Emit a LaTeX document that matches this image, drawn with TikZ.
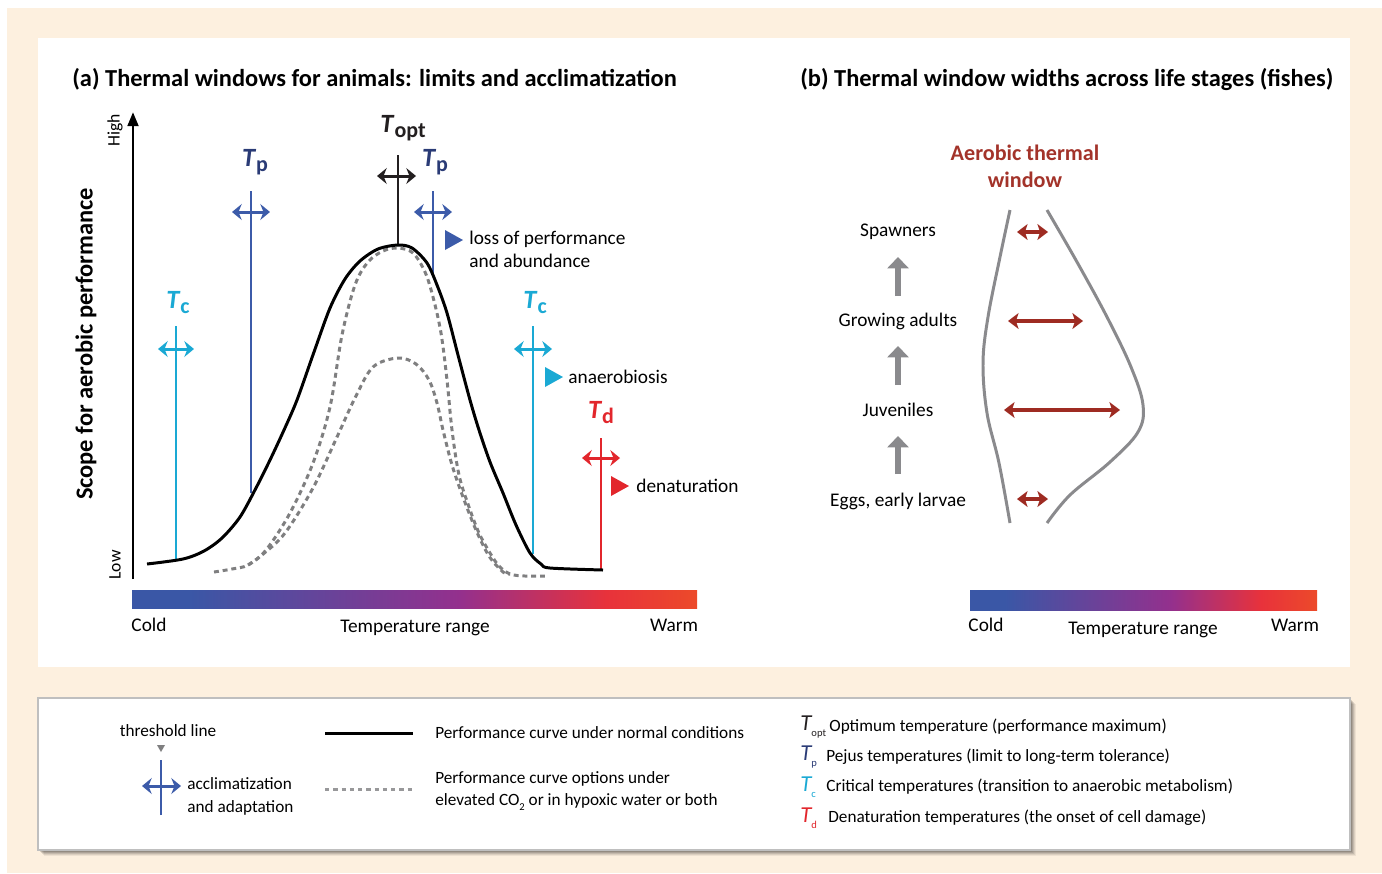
\documentclass[tikz,border=0pt]{standalone}
\usepackage{fontspec}
\setmainfont{Carlito}
\usetikzlibrary{arrows.meta,calc}
\definecolor{bgbeige}{HTML}{FDF0DF}
\definecolor{cTc}{HTML}{1AA9D4}
\definecolor{cTpL}{HTML}{3C5BA9}
\definecolor{cTp}{HTML}{2A3B76}
\definecolor{cTd}{HTML}{E2262C}
\definecolor{cTopt}{HTML}{231F20}
\definecolor{winred}{HTML}{9E2B22}
\definecolor{wintext}{HTML}{A3332A}
\definecolor{wingray}{HTML}{8A8A8D}
\definecolor{dashgray}{HTML}{7F7F80}
\definecolor{barblue}{HTML}{3A57A6}
\definecolor{barpurple}{HTML}{94308D}
\definecolor{barred}{HTML}{E8323B}
\definecolor{barorange}{HTML}{EC4A2A}
\pgfdeclarehorizontalshading{tempbar}{100bp}{color(0bp)=(barblue); color(25bp)=(barblue); color(30bp)=(barblue); color(54bp)=(barpurple); color(67bp)=(barred); color(75bp)=(barorange); color(100bp)=(barorange)}
\newcommand\Tl[1]{\textbf{\textit{T}}\raisebox{-0.4ex}{\fontsize{12.5}{12.5}\selectfont\bfseries #1}}
\newcommand\Ts[1]{{\fontsize{13}{13}\selectfont\itshape T}\raisebox{-0.7ex}{\fontsize{6}{6}\selectfont #1}}
\tikzset{
  thr/.style={line width=1.2pt},
  dbl/.style={line width=1.7pt,{Stealth[length=5.5pt,width=9pt,inset=1.8pt]}-{Stealth[length=5.5pt,width=9pt,inset=1.8pt]}},
  rdbl/.style={line width=2.3pt,winred,{Stealth[length=6pt,width=9pt,inset=1.5pt]}-{Stealth[length=6pt,width=9pt,inset=1.5pt]}},
  uparr/.style={line width=3.4pt,wingray,-{Triangle[length=6.5pt,width=12pt]}},
  tlab/.style={font=\fontsize{15}{15}\selectfont,inner sep=0pt},
  title/.style={font=\fontsize{13.9}{15}\selectfont\bfseries,inner sep=0pt},
  body/.style={font=\fontsize{11}{13}\selectfont,inner sep=0pt},
  leg/.style={font=\fontsize{9.8}{13}\selectfont,inner sep=0pt,align=left},
  small/.style={font=\fontsize{10}{11}\selectfont,inner sep=0pt},
  curve/.style={line width=1.7pt,line join=round},
  dcurve/.style={line width=1.7pt,dashgray,dash pattern=on 2.8pt off 2.2pt},
  wcurve/.style={line width=1.7pt,wingray},
}
\begin{document}
\begin{tikzpicture}[x=0.02cm,y=-0.02cm]
\useasboundingbox (0,0) rectangle (1382,873);
% backgrounds
\fill[bgbeige] (7,8) rectangle (1382,873);
\fill[white] (38,38) rectangle (1350,667);
% legend box with shadow
\foreach \o/\a in {6/0.06,5/0.08,4/0.1,3/0.12,2/0.14}{
  \fill[black,opacity=\a] (38+\o,698+\o) rectangle (1350+\o,850+\o);}
\draw[fill=white,draw=black!25,line width=0.6pt] (38,698) rectangle (1350,850);

% ---------- panel (a)
\node[title,anchor=west] (ta) at (72,79) {(a) Thermal windows for animals: limits and acclimatization};
\coordinate (ax0) at (133,579);
\coordinate (ax1) at (133,112);
\draw[line width=1.7pt,-{Triangle[length=8pt,width=6pt]}] (ax0) -- (ax1);
\node[small,rotate=90] (high) at (115,130) {High};
\node[small,rotate=90] (low) at (115,565) {Low};
\node[font=\fontsize{13.9}{14}\selectfont\bfseries,rotate=90,inner sep=0pt] (scope) at (86,344) {Scope for aerobic performance};
\shade[shading=tempbar] (132,590) rectangle (697,608);
\node[body] (colda) at (149,625) {Cold};
\node[body] (tra) at (415,628) {Temperature range};
\node[body] (warma) at (674,625) {Warm};

% threshold lines
% Tc left
\coordinate (tcl0) at (176,560); \coordinate (tcl1) at (176,326);
\draw[thr,cTc] (tcl0) -- (tcl1);
\coordinate (tcla) at (158,349); \coordinate (tclb) at (194,349);
\draw[dbl,cTc] (tcla) -- (tclb);
\node[tlab,text=cTc] (tclab) at (178,303) {\Tl{c}};
% Tp left
\coordinate (tpl0) at (251,493); \coordinate (tpl1) at (251,191);
\draw[thr,cTpL] (tpl0) -- (tpl1);
\coordinate (tpla) at (232,212); \coordinate (tplb) at (270,212);
\draw[dbl,cTpL] (tpla) -- (tplb);
\node[tlab,text=cTp] (tplab) at (255,162) {\Tl{p}};
% Topt
\coordinate (to0) at (398,246); \coordinate (to1) at (398,155);
\draw[thr,cTopt] (to0) -- (to1);
\coordinate (toa) at (377,176); \coordinate (tob) at (416,176);
\draw[dbl,cTopt] (toa) -- (tob);
\node[tlab,text=cTopt] (tolab) at (403,128) {\Tl{opt}};
% Tp right
\coordinate (tpr0) at (433,276); \coordinate (tpr1) at (433,191);
\draw[thr,cTpL] (tpr0) -- (tpr1);
\coordinate (tpra) at (414,212); \coordinate (tprb) at (452,212);
\draw[dbl,cTpL] (tpra) -- (tprb);
\node[tlab,text=cTp] (tprlab) at (435,162) {\Tl{p}};
\fill[cTpL] (445,230) -- (463,240) -- (445,250) -- cycle;
\node[body,anchor=west,align=left] (loss) at (469,249) {loss of performance\\and abundance};
% Tc right
\coordinate (tcr0) at (533,554); \coordinate (tcr1) at (533,326);
\draw[thr,cTc] (tcr0) -- (tcr1);
\coordinate (tcra) at (514,349); \coordinate (tcrb) at (552,349);
\draw[dbl,cTc] (tcra) -- (tcrb);
\node[tlab,text=cTc] (tcrlab) at (535,303) {\Tl{c}};
\fill[cTc] (545,367) -- (563,377) -- (545,387) -- cycle;
\node[body,anchor=west] (anae) at (568,377) {anaerobiosis};
% Td
\coordinate (td0) at (601,571); \coordinate (td1) at (601,438);
\draw[thr,cTd] (td0) -- (td1);
\coordinate (tda) at (582,458); \coordinate (tdb) at (620,458);
\draw[dbl,cTd] (tda) -- (tdb);
\node[tlab,text=cTd] (tdlab) at (601,413) {\Tl{d}};
\fill[cTd] (611,476) -- (629,486) -- (611,496) -- cycle;
\node[body,anchor=west] (denat) at (636,486) {denaturation};

% dashed curves
\draw[dcurve] plot[smooth,tension=0.55] coordinates {(214,572) (232,569) (248,565) (266,550) (290,513) (313,463) (330,407) (342,335) (355,285) (368,262) (383,251) (398,248) (413,253) (425,272) (433,297) (441,333) (447,380) (452,430) (459,475) (469,507) (479,533) (490,553) (499,566) (510,574) (525,576) (546,576)};
\draw[dcurve] plot[smooth,tension=0.55] coordinates {(248,565) (262,555) (285,533) (313,488) (337,437) (355,398) (373,367) (398,358) (416,364) (429,380) (437,403) (443,430) (452,465) (463,497) (476,530) (489,556) (503,572) (510,574)};
% black curve
\draw[curve] plot[smooth,tension=0.5] coordinates {(147,564) (183,559) (204,551) (222,538) (240,517) (256,488) (270,460) (284,430) (297,400) (314,352) (330,308) (345,279) (360,261) (378,249) (398,245) (412,248) (427,263) (437,285) (447,313) (458,355) (470,400) (479,430) (490,462) (503,493) (516,525) (530,553) (541,564) (550,568) (603,570)};

% ---------- panel (b)
\node[title,anchor=west] (tb) at (800,79) {(b) Thermal window widths across life stages (fishes)};
\node[font=\fontsize{12.6}{15.5}\selectfont\bfseries,text=wintext,align=center,inner sep=0pt] (atw) at (1025,166) {Aerobic thermal\\window};
\node[body] (sp) at (898,232) {Spawners};
\node[body] (ga) at (898,321) {Growing adults};
\node[body] (ju) at (898,410) {Juveniles};
\node[body] (eg) at (898,501) {Eggs, early larvae};
\coordinate (ua0) at (898,296); \coordinate (ua1) at (898,257);
\coordinate (ub0) at (898,385); \coordinate (ub1) at (898,346);
\coordinate (uc0) at (898,474); \coordinate (uc1) at (898,436);
\draw[uparr] (ua0) -- (ua1);
\draw[uparr] (ub0) -- (ub1);
\draw[uparr] (uc0) -- (uc1);
\draw[wcurve] plot[smooth,tension=0.6] coordinates {(1010,210) (1000,257) (988,317) (983,363) (987,413) (999,463) (1010,523)};
\draw[wcurve] plot[smooth,tension=0.6] coordinates {(1047,210) (1077,262) (1107,317) (1131,367) (1143,405) (1138,432) (1110,462) (1070,495) (1047,523)};
\coordinate (w1a) at (1017,232); \coordinate (w1b) at (1048,232);
\coordinate (w2a) at (1008,321); \coordinate (w2b) at (1083,321);
\coordinate (w3a) at (1004,410); \coordinate (w3b) at (1120,410);
\coordinate (w4a) at (1017,499); \coordinate (w4b) at (1048,499);
\draw[rdbl] (w1a) -- (w1b);
\draw[rdbl] (w2a) -- (w2b);
\draw[rdbl] (w3a) -- (w3b);
\draw[rdbl] (w4a) -- (w4b);
\shade[shading=tempbar] (970,590) rectangle (1317,610);
\node[body] (coldb) at (986,625) {Cold};
\node[body] (trb) at (1143,630) {Temperature range};
\node[body] (warmb) at (1295,625) {Warm};

% ---------- legend
\node[leg,anchor=center] (thl) at (168,731) {threshold line};
\fill[dashgray] (157,745) -- (165,745) -- (161,752) -- cycle;
\coordinate (lg0) at (161,815); \coordinate (lg1) at (161,760);
\draw[thr,cTpL] (lg0) -- (lg1);
\coordinate (lga) at (142,786); \coordinate (lgb) at (181,786);
\draw[dbl,cTpL] (lga) -- (lgb);
\node[leg,anchor=west] (accl) at (187,796) {acclimatization\\and adaptation};
\coordinate (ls0) at (325,733); \coordinate (ls1) at (413,733);
\draw[line width=1.7pt] (ls0) -- (ls1);
\node[leg,anchor=west] (lsT) at (435,733) {Performance curve under normal conditions};
\coordinate (ld0) at (325,789); \coordinate (ld1) at (413,789);
\draw[line width=1.7pt,dashgray!80,dash pattern=on 2.5pt off 2.2pt] (ld0) -- (ld1);
\node[leg,anchor=west] (ldT) at (435,791) {Performance curve options under\\elevated CO\raisebox{-0.6ex}{\fontsize{6}{6}\selectfont 2} or in hypoxic water or both};
\node[leg,anchor=west,text=cTopt] (lt1) at (800,727) {\Ts{opt}};
\node[leg,anchor=west] (lt1t) at (829,727) {Optimum temperature (performance maximum)};
\node[leg,anchor=west,text=cTp] (lt2) at (800,757) {\Ts{p}};
\node[leg,anchor=west] (lt2t) at (826,757) {Pejus temperatures (limit to long-term tolerance)};
\node[leg,anchor=west,text=cTc] (lt3) at (800,787) {\Ts{c}};
\node[leg,anchor=west] (lt3t) at (826,787) {Critical temperatures (transition to anaerobic metabolism)};
\node[leg,anchor=west,text=cTd] (lt4) at (800,818) {\Ts{d}};
\node[leg,anchor=west] (lt4t) at (828,818) {Denaturation temperatures (the onset of cell damage)};
\end{tikzpicture}
\end{document}
